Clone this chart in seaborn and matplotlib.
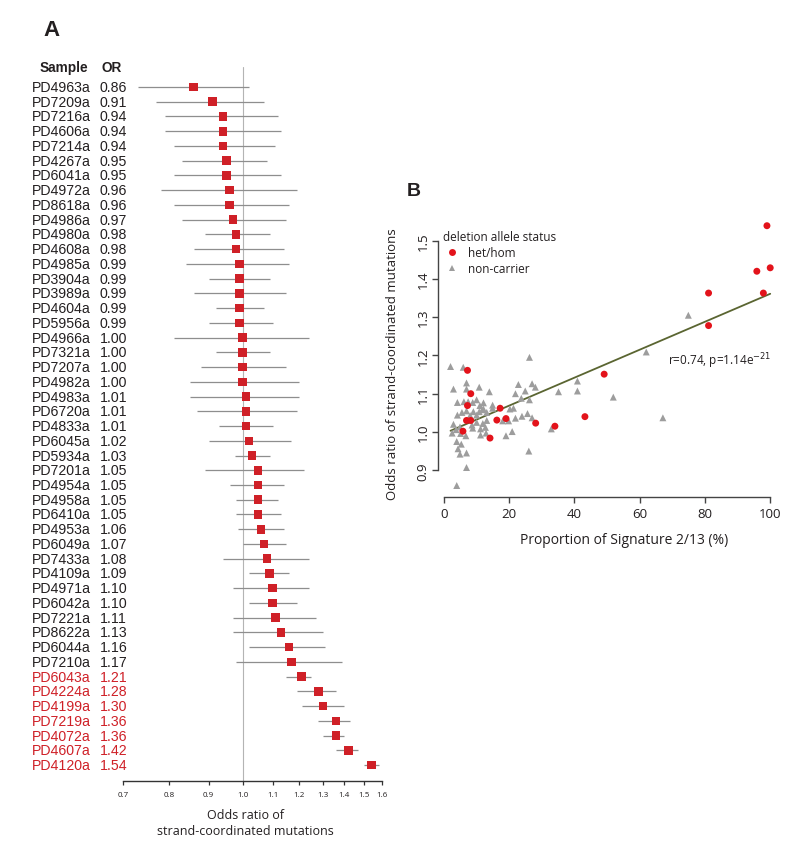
import numpy as np
import pandas as pd
import matplotlib
matplotlib.use('Agg')
import matplotlib.pyplot as plt
import matplotlib.transforms as mtransforms
import seaborn as sns

# ---- panel A data (forest plot) ----
samples = ['PD4963a', 'PD7209a', 'PD7216a', 'PD4606a', 'PD7214a', 'PD4267a', 'PD6041a',
           'PD4972a', 'PD8618a', 'PD4986a', 'PD4980a', 'PD4608a', 'PD4985a', 'PD3904a',
           'PD3989a', 'PD4604a', 'PD5956a', 'PD4966a', 'PD7321a', 'PD7207a', 'PD4982a',
           'PD4983a', 'PD6720a', 'PD4833a', 'PD6045a', 'PD5934a', 'PD7201a', 'PD4954a',
           'PD4958a', 'PD6410a', 'PD4953a', 'PD6049a', 'PD7433a', 'PD4109a', 'PD4971a',
           'PD6042a', 'PD7221a', 'PD8622a', 'PD6044a', 'PD7210a', 'PD6043a', 'PD4224a',
           'PD4199a', 'PD7219a', 'PD4072a', 'PD4607a', 'PD4120a']
odds = [0.86, 0.91, 0.94, 0.94, 0.94, 0.95, 0.95, 0.96, 0.96, 0.97, 0.98, 0.98, 0.99, 0.99,
        0.99, 0.99, 0.99, 1.00, 1.00, 1.00, 1.00, 1.01, 1.01, 1.01, 1.02, 1.03, 1.05, 1.05,
        1.05, 1.05, 1.06, 1.07, 1.08, 1.09, 1.10, 1.10, 1.11, 1.13, 1.16, 1.17, 1.21, 1.28,
        1.30, 1.36, 1.36, 1.42, 1.54]
ci_low = [0.73, 0.77, 0.79, 0.79, 0.81, 0.83, 0.81, 0.78, 0.81, 0.83, 0.89, 0.86, 0.84, 0.90,
          0.86, 0.92, 0.90, 0.81, 0.92, 0.88, 0.85, 0.85, 0.87, 0.93, 0.90, 0.975, 0.89, 0.96,
          0.98, 0.98, 0.985, 1.00, 0.94, 1.02, 0.97, 1.02, 0.97, 0.97, 1.02, 0.98, 1.15, 1.19,
          1.21, 1.28, 1.30, 1.36, 1.50]
ci_high = [1.02, 1.07, 1.12, 1.13, 1.11, 1.08, 1.13, 1.19, 1.16, 1.15, 1.09, 1.14, 1.16, 1.09,
           1.15, 1.07, 1.10, 1.24, 1.09, 1.15, 1.20, 1.20, 1.19, 1.10, 1.17, 1.09, 1.22, 1.14,
           1.12, 1.13, 1.14, 1.15, 1.24, 1.16, 1.24, 1.19, 1.27, 1.30, 1.31, 1.39, 1.25, 1.36,
           1.40, 1.43, 1.40, 1.47, 1.58]
red_samples = ['PD6043a', 'PD4224a', 'PD4199a', 'PD7219a', 'PD4072a', 'PD4607a', 'PD4120a']
or_ticks = [0.7, 0.8, 0.9, 1.0, 1.1, 1.2, 1.3, 1.4, 1.5, 1.6]

# ---- panel B data (scatter) ----
carrier_x = [99.0, 95.9, 100.0, 97.9, 81.1, 81.1, 49.1, 43.2, 34.0, 28.1, 19.0, 16.2, 17.2,
             14.1, 7.2, 8.2, 7.2, 6.9, 8.2, 5.8]
carrier_y = [1.539, 1.420, 1.429, 1.363, 1.363, 1.278, 1.151, 1.040, 1.015, 1.023, 1.035,
             1.031, 1.062, 0.984, 1.161, 1.100, 1.069, 1.030, 1.030, 1.002]
noncarrier_x = [2.0, 5.9, 2.9, 6.9, 6.9, 10.8, 13.9, 4.1, 6.1, 7.4, 8.8, 10.0, 11.0, 12.1, 12.1,
                14.9, 14.9, 4.1, 5.5, 6.9, 8.0, 9.0, 10.0, 10.8, 11.7, 13.1, 20.2, 21.3, 22.8,
                27.0, 28.0, 24.9, 21.9, 23.7, 26.2, 35.1, 2.9, 3.7, 4.9, 8.6, 10.0, 11.9, 13.1,
                18.0, 19.8, 21.9, 23.9, 25.6, 27.0, 2.5, 5.1, 6.7, 8.8, 11.2, 12.7, 12.9, 11.2,
                19.0, 20.9, 32.9, 3.9, 4.3, 5.3, 4.9, 6.9, 26.0, 6.9, 3.9, 62.0, 74.9, 40.9,
                40.9, 51.9, 26.2, 67.1]
noncarrier_y = [1.171, 1.169, 1.112, 1.128, 1.112, 1.117, 1.105, 1.077, 1.079, 1.079, 1.077,
                1.084, 1.069, 1.076, 1.060, 1.070, 1.062, 1.044, 1.051, 1.055, 1.043, 1.053,
                1.044, 1.053, 1.058, 1.051, 1.060, 1.062, 1.124, 1.126, 1.117, 1.107, 1.100,
                1.088, 1.084, 1.105, 1.020, 1.006, 1.013, 1.018, 1.025, 1.022, 1.030, 1.029,
                1.029, 1.036, 1.041, 1.048, 1.037, 0.997, 0.996, 0.990, 1.010, 1.008, 1.012,
                0.997, 0.992, 0.990, 1.001, 1.008, 0.975, 0.956, 0.968, 0.942, 0.945, 0.950,
                0.907, 0.860, 1.209, 1.305, 1.133, 1.107, 1.091, 1.195, 1.037]
sig_ticks_x = [0, 20, 40, 60, 80, 100]
sig_ticks_y = [0.9, 1.0, 1.1, 1.2, 1.3, 1.4, 1.5]
corr_text = 'r=0.74, p=1.14e$^{-21}$'

RED = '#cf2027'
DOT_RED = '#e3131b'
GREY = '#9d9d9d'
OLIVE = '#5a6531'
TXT = '#231f20'

sns.set_style('ticks')
plt.rcParams['font.family'] = ['Liberation Sans', 'DejaVu Sans']
W, H = 800, 854
fig = plt.figure(figsize=(W / 100, H / 100), dpi=100)

# ================= panel A =================
axA = fig.add_axes([123 / W, 1 - 782 / H, (382 - 123) / W, (782 - 68) / H])


def fwd(x):
    x = np.clip(np.asarray(x, dtype=float), 1e-3, None)
    return (x ** -0.3 - 1) / -0.3


def inv(y):
    b = np.clip(1 - 0.3 * np.asarray(y, dtype=float), 1e-3, None)
    return b ** (-1 / 0.3)


axA.set_xscale('function', functions=(fwd, inv))
forest = pd.DataFrame({'sample': samples, 'OR': odds, 'lo': ci_low, 'hi': ci_high})
forest['row'] = np.arange(len(forest))

axA.axvline(1.0, color='#b4b4b4', lw=0.8, zorder=0)
axA.hlines(forest['row'], forest['lo'], forest['hi'], color='#8e8e8e', lw=0.9, zorder=1)
sns.scatterplot(data=forest, x='OR', y='row', marker='s', s=38, color=RED,
                edgecolor='none', ax=axA, zorder=3)

axA.set_xlim(0.7, 1.6)
axA.set_ylim(47.08, -1.357)
axA.set_xticks(or_ticks)
axA.set_xticklabels([f'{t:.1f}' for t in or_ticks], fontsize=5.8, family='Open Sans', color=TXT)
axA.xaxis.set_minor_locator(matplotlib.ticker.NullLocator())
axA.tick_params(axis='x', length=3, width=0.9, color='#333333', pad=4)
axA.set_yticks([])
axA.set_xlabel('')
axA.set_ylabel('')
for s in ['left', 'top', 'right']:
    axA.spines[s].set_visible(False)
axA.spines['bottom'].set_bounds(0.7, 1.6)
axA.spines['bottom'].set_color('#333333')
axA.spines['bottom'].set_linewidth(1.0)
axA.patch.set_alpha(0)

trans = mtransforms.blended_transform_factory(fig.transFigure, axA.transData)
for i, row in forest.iterrows():
    col = RED if row['sample'] in red_samples else TXT
    fig.text(32 / W, row['row'], row['sample'], transform=trans, fontsize=10.2,
             va='center', ha='left', color=col)
    fig.text(100 / W, row['row'], f"{row['OR']:.2f}", transform=trans, fontsize=10.2,
             va='center', ha='left', color=col)

fig.text(40 / W, 1 - 68 / H, 'Sample', fontsize=9.8, fontweight='bold', va='center', color=TXT)
fig.text(101 / W, 1 - 68 / H, 'OR', fontsize=9.8, fontweight='bold', va='center', color=TXT)
fig.text(43 / W, 1 - 30 / H, 'A', fontsize=16, fontweight='bold', va='center', color=TXT)
fig.text(245 / W, 1 - 824 / H, 'Odds ratio of\nstrand-coordinated mutations', fontsize=9,
         family='Open Sans', ha='center', va='center', linespacing=1.3, color=TXT)

# ================= panel B =================
axB = fig.add_axes([438 / W, 1 - 498 / H, (780 - 438) / W, (498 - 216) / H])
status_col = 'deletion allele status'
scatter_df = pd.DataFrame({
    'sig': noncarrier_x + carrier_x,
    'odds': noncarrier_y + carrier_y,
    status_col: ['non-carrier'] * len(noncarrier_x) + ['het/hom'] * len(carrier_x),
})
sns.scatterplot(data=scatter_df, x='sig', y='odds', hue=status_col, style=status_col,
                hue_order=['het/hom', 'non-carrier'], style_order=['het/hom', 'non-carrier'],
                markers={'het/hom': 'o', 'non-carrier': '^'},
                palette={'het/hom': DOT_RED, 'non-carrier': GREY},
                s=25, edgecolor='none', linewidth=0, ax=axB, zorder=3)
sns.regplot(data=scatter_df, x='sig', y='odds', scatter=False, ci=None, ax=axB,
            line_kws={'color': OLIVE, 'lw': 1.3, 'zorder': 2})

axB.set_xlim(-1.84, 103)
axB.set_ylim(0.830, 1.567)
axB.set_xticks(sig_ticks_x)
axB.set_yticks(sig_ticks_y)
axB.set_xticklabels([str(t) for t in sig_ticks_x], fontsize=9.5, family='Open Sans', color=TXT)
axB.set_yticklabels([f'{t:.1f}' for t in sig_ticks_y], fontsize=9.5, family='Open Sans',
                    rotation=90, va='center', color=TXT)
axB.tick_params(length=4, width=1.0, color='#444444', pad=3)
axB.tick_params(axis='y', pad=2)
axB.set_xlabel('Proportion of Signature 2/13 (%)', fontsize=10, family='Open Sans',
               color=TXT)
axB.set_ylabel('Odds ratio of strand-coordinated mutations', fontsize=9.5, family='Open Sans',
               color=TXT)
axB.xaxis.set_label_coords((624 - 438) / (780 - 438), -(541 - 498) / (498 - 216))
axB.yaxis.set_label_coords(-(438 - 392) / (780 - 438), (498 - 364) / (498 - 216))
axB.xaxis.label.set_va('center')
axB.yaxis.label.set_va('center')
for s in ['top', 'right']:
    axB.spines[s].set_visible(False)
axB.spines['left'].set_bounds(0.9, 1.5)
axB.spines['bottom'].set_bounds(0, 100)
for s in ['left', 'bottom']:
    axB.spines[s].set_color('#444444')
    axB.spines[s].set_linewidth(1.0)
axB.patch.set_alpha(0)

sns.move_legend(axB, 'upper left', bbox_to_anchor=(443 / W, 1 - 231 / H),
                bbox_transform=fig.transFigure, frameon=False, title=status_col,
                fontsize=8.5, title_fontsize=8.5, borderpad=0, borderaxespad=0,
                handlelength=1.6, handletextpad=0.5, labelspacing=0.25)
leg = axB.get_legend()
leg._legend_box.align = 'left'
leg.get_title().set_family('Open Sans')
leg.get_title().set_color(TXT)
for t in leg.get_texts():
    t.set_family('Open Sans')
    t.set_color(TXT)

axB.text(668 / W, 1 - 361 / H, corr_text, transform=fig.transFigure, fontsize=8.5,
         family='Open Sans', va='center', ha='left', color=TXT)
fig.text(407 / W, 1 - 191 / H, 'B', fontsize=14, fontweight='bold', va='center', color=TXT)

fig.savefig('out.png', dpi=100)
